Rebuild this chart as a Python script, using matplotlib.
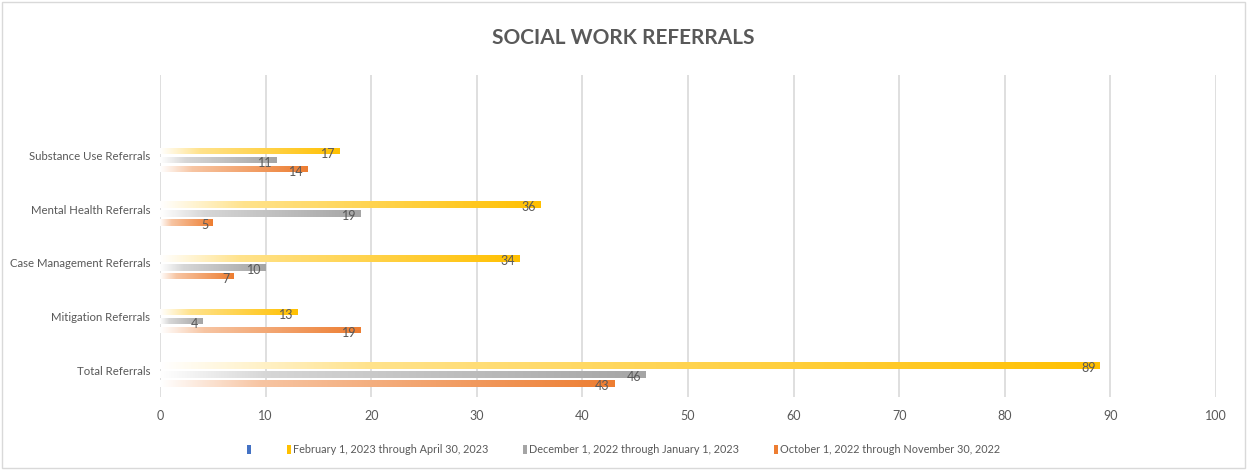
import numpy as np
import matplotlib.pyplot as plt
from matplotlib.colors import to_rgb
from matplotlib.patches import Patch, Rectangle

categories = ['Total Referrals', 'Mitigation Referrals', 'Case Management Referrals',
              'Mental Health Referrals', 'Substance Use Referrals', '']
periods = ['', 'February 1, 2023 through April 30, 2023',
           'December 1, 2022 through January 1, 2023',
           'October 1, 2022 through November 30, 2022']
colors = ['#4472C4', '#FFC000', '#A5A5A5', '#ED7D31']

# values per category (bottom to top), blank top row has no bars
feb_apr = [89, 13, 34, 36, 17]
dec_jan = [46, 4, 10, 19, 11]
oct_nov = [43, 19, 7, 5, 14]
series = [None, feb_apr, dec_jan, oct_nov]

text_col = '#595959'
plt.rcParams['font.family'] = ['Lato', 'DejaVu Sans']

fig = plt.figure(figsize=(12.47, 4.70), dpi=100)
fig.patches.append(Rectangle((0.002, 0.004), 0.996, 0.992, transform=fig.transFigure,
                             fill=False, edgecolor='#D9D9D9', linewidth=1))
ax = fig.add_axes([0.1283, 0.1553, 0.8468, 0.6851])

def gradient(col, n=256):
    # white -> light tint -> full colour along the bar
    c = np.array(to_rgb(col))
    w = np.ones(3)
    tint = 0.45 * c + 0.55 * w
    t = np.linspace(0, 1, n)
    out = np.empty((1, n, 3))
    for i, s in enumerate(t):
        if s < 0.22:
            f = s / 0.22
            out[0, i] = w * (1 - f) + tint * f
        else:
            f = (s - 0.22) / 0.78
            out[0, i] = tint * (1 - f) + c * f
    return out

slot = 1 / 6
offsets = [1.5 * slot, 0.5 * slot, -0.5 * slot, -1.5 * slot]
h = 0.12
y = np.arange(len(categories))

for k, vals in enumerate(series):
    if vals is None:
        continue
    pos = y[:len(vals)] + offsets[k]
    bars = ax.barh(pos, vals, height=h, color='none', edgecolor='none')
    for b, v, p in zip(bars, vals, pos):
        im = ax.imshow(gradient(colors[k]), extent=(0, v, p - h / 2, p + h / 2),
                       aspect='auto', interpolation='bilinear', zorder=2)
        im.set_clip_path(b)
        ax.annotate(str(v), (v, p), xytext=(-3, -2), textcoords='offset points',
                    ha='right', va='center', fontsize=9, color=text_col, zorder=3)

ax.set_xlim(0, 100)
ax.set_ylim(-0.5, len(categories) - 0.5)
ax.set_xticks(np.arange(0, 101, 10))
ax.set_yticks(y)
ax.set_yticklabels(categories)
ax.grid(axis='x', color='#D9D9D9', linewidth=1.2, zorder=0)
ax.set_axisbelow(True)
for s in ax.spines.values():
    s.set_visible(False)
ax.tick_params(length=0, labelsize=9, labelcolor=text_col)
ax.tick_params(axis='y', labelsize=8.2, pad=7)
ax.tick_params(axis='x', pad=9)

fig.text(0.5, 0.92, 'SOCIAL WORK REFERRALS', ha='center', va='center',
         fontsize=15, fontweight='bold', color=text_col)

handles = [Patch(facecolor=c, edgecolor='none') for c in colors]
fig.legend(handles, periods, loc='center', bbox_to_anchor=(0.5, 0.043), ncol=4,
           frameon=False, fontsize=7.8, labelcolor=text_col, handlelength=0.35,
           handleheight=0.9, handletextpad=0.2, columnspacing=3.2)

fig.savefig('out.png', dpi=100)
